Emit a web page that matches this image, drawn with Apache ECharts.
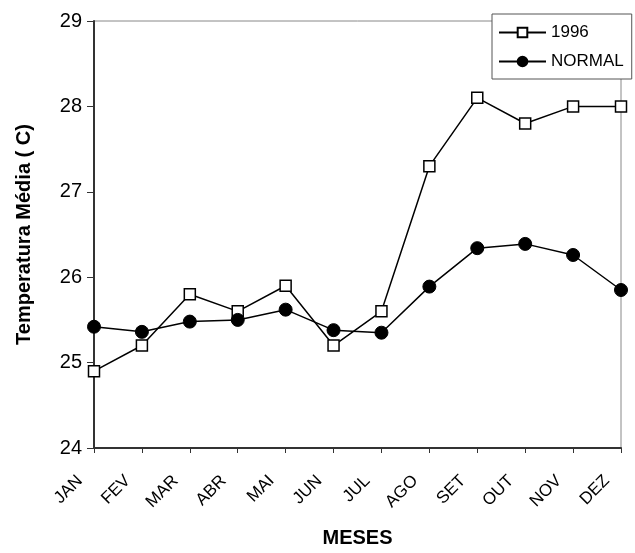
<!DOCTYPE html>
<html><head><meta charset="utf-8">
<script src="https://cdn.jsdelivr.net/npm/echarts@6/dist/echarts.min.js"></script>
<style>html,body{margin:0;padding:0;background:#fff}#c{width:635px;height:553px}</style>
</head><body><div id="c"></div>
<script>
var months = ['JAN','FEV','MAR','ABR','MAI','JUN','JUL','AGO','SET','OUT','NOV','DEZ'];
var y1996 = [24.9, 25.2, 25.8, 25.6, 25.9, 25.2, 25.6, 27.3, 28.1, 27.8, 28.0, 28.0];
var normal = [25.42, 25.36, 25.48, 25.5, 25.62, 25.38, 25.35, 25.89, 26.34, 26.39, 26.26, 25.85];
var yTicks = [24, 25, 26, 27, 28, 29];

var chart = echarts.init(document.getElementById('c'));
var font = 'Liberation Sans, Arial, sans-serif';
chart.setOption({
  animation: false,
  backgroundColor: '#fff',
  textStyle: {fontFamily: font, color: '#000'},
  grid: {left: 94, right: 14, top: 21, bottom: 96, show: true, borderColor: '#888', borderWidth: 1},
  legend: {
    left: 492, top: 14, orient: 'vertical', itemWidth: 47, itemHeight: 12, itemGap: 12,
    padding: [10, 8, 9, 6],
    borderColor: '#555', borderWidth: 1, backgroundColor: '#fff',
    textStyle: {fontFamily: font, fontSize: 17, color: '#000'},
    data: ['1996', 'NORMAL']
  },
  xAxis: {
    type: 'category', data: months, boundaryGap: false,
    name: 'MESES', nameLocation: 'middle', nameGap: 80,
    nameTextStyle: {fontFamily: font, fontSize: 20, fontWeight: 'bold', color: '#000'},
    axisLine: {lineStyle: {color: '#333', width: 2}},
    axisTick: {length: 5, lineStyle: {color: '#333'}},
    axisLabel: {rotate: 45, fontSize: 17, color: '#000', fontFamily: font, margin: 16, padding: [0, 20, 0, 0]}
  },
  yAxis: {
    type: 'value', min: 24, max: 29, interval: 1,
    name: 'Temperatura Média ( C)', nameLocation: 'middle', nameGap: 60,
    nameTextStyle: {fontFamily: font, fontSize: 20, fontWeight: 'bold', color: '#000'},
    splitLine: {show: false},
    axisLine: {show: true, lineStyle: {color: '#333', width: 2}},
    axisTick: {show: true, length: 7, lineStyle: {color: '#333'}},
    axisLabel: {fontSize: 20, color: '#000', fontFamily: font, margin: 12,
      formatter: function(v){ return yTicks.indexOf(v) >= 0 ? String(v) : ''; }}
  },
  series: [
    {name: '1996', type: 'line', data: y1996, symbol: 'rect', symbolSize: 11,
     lineStyle: {color: '#000', width: 1.5}, itemStyle: {color: '#fff', borderColor: '#000', borderWidth: 1.5}},
    {name: 'NORMAL', type: 'line', data: normal, symbol: 'circle', symbolSize: 13,
     lineStyle: {color: '#000', width: 1.5}, itemStyle: {color: '#000', borderColor: '#000', borderWidth: 1}}
  ]
});
</script></body></html>
